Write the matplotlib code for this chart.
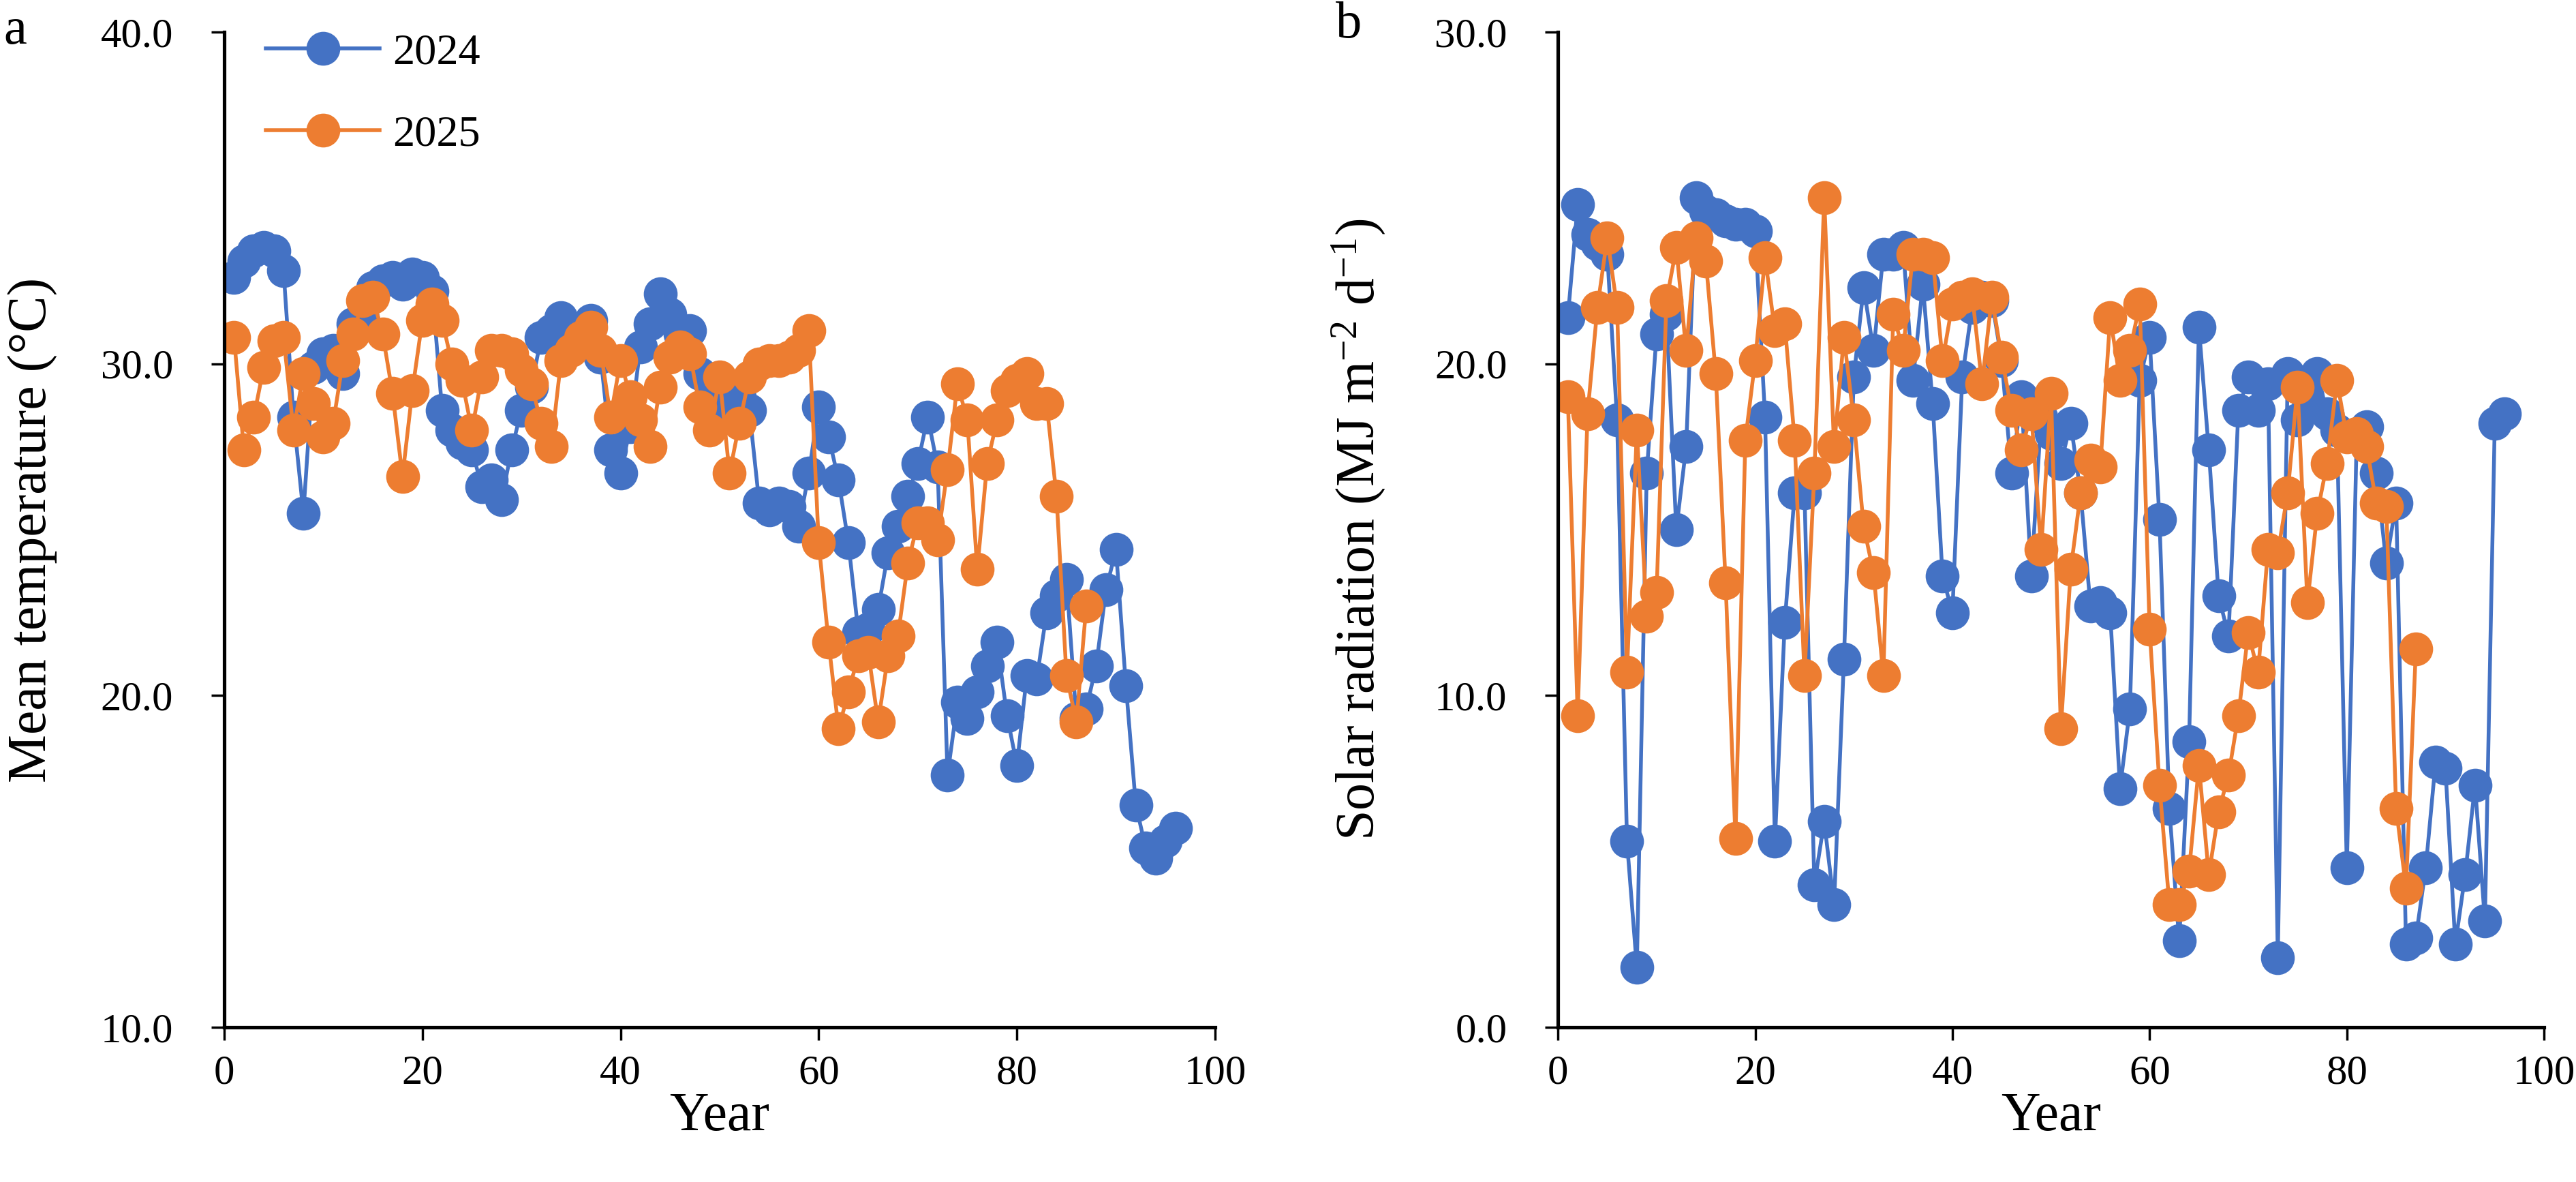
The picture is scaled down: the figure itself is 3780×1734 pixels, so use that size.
import numpy as np
import matplotlib
matplotlib.use("Agg")
import matplotlib.pyplot as plt

plt.rcParams['font.family'] = ['Liberation Serif', 'DejaVu Serif']
plt.rcParams['mathtext.fontset'] = 'custom'
plt.rcParams['mathtext.rm'] = 'Liberation Serif'
plt.rcParams['mathtext.it'] = 'Liberation Serif:italic'

# day index of the season
days_2024 = list(range(1, 97))
days_2025 = list(range(1, 88))

# mean temperature (deg C)
temp_2024 = [32.6, 33.1, 33.4, 33.5, 33.4, 32.8, 28.4, 25.5, 29.9, 30.3,
             30.4, 29.7, 31.2, 31.4, 32.3, 32.5, 32.6, 32.4, 32.7, 32.6,
             32.2, 28.6, 28.0, 27.6, 27.4, 26.3, 26.5, 25.9, 27.4, 28.6,
             29.3, 30.8, 31.0, 31.4, 30.9, 31.0, 31.3, 30.2, 27.4, 26.7,
             28.1, 30.5, 31.2, 32.1, 31.5, 30.9, 31.0, 29.7, 28.6, 29.4,
             28.6, 29.0, 28.6, 25.8, 25.6, 25.8, 25.7, 25.1, 26.7, 28.7,
             27.8, 26.5, 24.6, 21.9, 22.0, 22.6, 24.3, 25.1, 26.0, 27.0,
             28.4, 26.9, 17.6, 19.8, 19.3, 20.1, 20.9, 21.6, 19.4, 17.9,
             20.6, 20.5, 22.5, 23.0, 23.5, 19.3, 19.6, 20.9, 23.2, 24.4,
             20.3, 16.7, 15.4, 15.1, 15.6, 16.0]
temp_2025 = [30.8, 27.4, 28.4, 29.9, 30.7, 30.8, 28.0, 29.7, 28.8, 27.8,
             28.2, 30.1, 30.9, 31.9, 32.0, 30.9, 29.1, 26.6, 29.2, 31.3,
             31.8, 31.3, 30.0, 29.5, 28.0, 29.6, 30.4, 30.4, 30.3, 29.8,
             29.4, 28.2, 27.5, 30.1, 30.4, 30.8, 31.1, 30.4, 28.4, 30.1,
             29.0, 28.3, 27.5, 29.3, 30.2, 30.5, 30.3, 28.7, 28.0, 29.6,
             26.7, 28.2, 29.6, 30.0, 30.1, 30.1, 30.2, 30.4, 31.0, 24.6,
             21.6, 19.0, 20.1, 21.2, 21.3, 19.2, 21.2, 21.8, 24.0, 25.2,
             25.2, 24.7, 26.8, 29.4, 28.3, 23.8, 27.0, 28.3, 29.2, 29.5,
             29.7, 28.8, 28.8, 26.0, 20.6, 19.2, 22.7]

# solar radiation (MJ m-2 d-1)
rad_2024 = [21.4, 24.8, 23.9, 23.6, 23.3, 18.3, 5.6, 1.8, 16.7, 20.9,
            21.5, 15.0, 17.5, 25.0, 24.6, 24.5, 24.3, 24.2, 24.2, 24.0,
            18.4, 5.6, 12.2, 16.1, 16.1, 4.3, 6.2, 3.7, 11.1, 19.6,
            22.3, 20.4, 23.3, 23.3, 23.5, 19.5, 22.4, 18.8, 13.6, 12.5,
            19.6, 21.7, 22.0, 21.9, 20.1, 16.7, 19.0, 13.6, 18.4, 17.9,
            17.0, 18.2, 16.1, 12.7, 12.8, 12.5, 7.2, 9.6, 19.5, 20.8,
            15.3, 6.6, 2.6, 8.6, 21.1, 17.4, 13.0, 11.8, 18.6, 19.6,
            18.6, 19.4, 2.1, 19.7, 18.3, 19.0, 19.7, 18.5, 18.0, 4.8,
            17.8, 18.1, 16.7, 14.0, 15.8, 2.5, 2.7, 4.8, 8.0, 7.8,
            2.5, 4.6, 7.3, 3.2, 18.2, 18.5]
rad_2025 = [19.0, 9.4, 18.5, 21.7, 23.8, 21.7, 10.7, 18.0, 12.4, 13.1,
            21.9, 23.5, 20.4, 23.8, 23.1, 19.7, 13.4, 5.7, 17.7, 20.1,
            23.2, 21.0, 21.2, 17.7, 10.6, 16.7, 25.0, 17.5, 20.8, 18.3,
            15.1, 13.7, 10.6, 21.5, 20.4, 23.3, 23.3, 23.2, 20.1, 21.8,
            22.0, 22.1, 19.4, 22.0, 20.2, 18.6, 17.4, 18.5, 14.4, 19.1,
            9.0, 13.8, 16.1, 17.1, 16.9, 21.4, 19.5, 20.4, 21.8, 12.0,
            7.3, 3.7, 3.7, 4.7, 7.9, 4.6, 6.5, 7.6, 9.4, 11.9,
            10.7, 14.4, 14.3, 16.1, 19.3, 12.8, 15.5, 17.0, 19.5, 17.8,
            17.9, 17.5, 15.8, 15.7, 6.6, 4.2, 11.4]

blue = '#4472C4'
orange = '#ED7D31'

fig = plt.figure(figsize=(15.12, 6.936), dpi=250)
ax1 = fig.add_axes([0.0870, 0.1309, 0.3847, 0.8420])
ax2 = fig.add_axes([0.6048, 0.1309, 0.3828, 0.8420])


def style(ax, ylim, yticks):
    ax.set_xlim(0, 100)
    ax.set_ylim(*ylim)
    ax.set_xticks([0, 20, 40, 60, 80, 100])
    ax.set_yticks(yticks)
    ax.set_yticklabels(['%.1f' % v for v in yticks])
    for s in ['top', 'right']:
        ax.spines[s].set_visible(False)
    for s in ['left', 'bottom']:
        ax.spines[s].set_linewidth(1.5)
        ax.spines[s].set_color('black')
    ax.tick_params(direction='out', length=5.5, width=1.0, labelsize=17.5)
    ax.tick_params(axis='y', pad=16)
    ax.tick_params(axis='x', pad=6)
    ax.set_xlabel('Year', fontsize=23, labelpad=0)


mk = dict(marker='o', markersize=13.3, linewidth=1.6)

ax1.plot(days_2024, temp_2024, color=blue, label='2024', **mk)
ax1.plot(days_2025, temp_2025, color=orange, label='2025', **mk)
style(ax1, (10, 40), [10, 20, 30, 40])
ax1.set_ylabel('Mean temperature (\u00b0C)', fontsize=23, labelpad=18)
ax1.legend(loc='upper left', bbox_to_anchor=(0.02, 1.021), frameon=False,
           fontsize=18.5, handlelength=2.6, labelspacing=0.95, handletextpad=0.3,
           borderpad=0)

ax2.plot(days_2024, rad_2024, color=blue, label='2024', **mk)
ax2.plot(days_2025, rad_2025, color=orange, label='2025', **mk)
style(ax2, (0, 30), [0, 10, 20, 30])
ax2.set_ylabel('Solar radiation (MJ m$^{\u22122}$ d$^{\u22121}$)', fontsize=23, labelpad=20)

fig.text(0.0015, 0.963, 'a', fontsize=22, va='baseline', ha='left')
fig.text(0.5185, 0.968, 'b', fontsize=22, va='baseline', ha='left')

fig.savefig('out.png', dpi=250)
